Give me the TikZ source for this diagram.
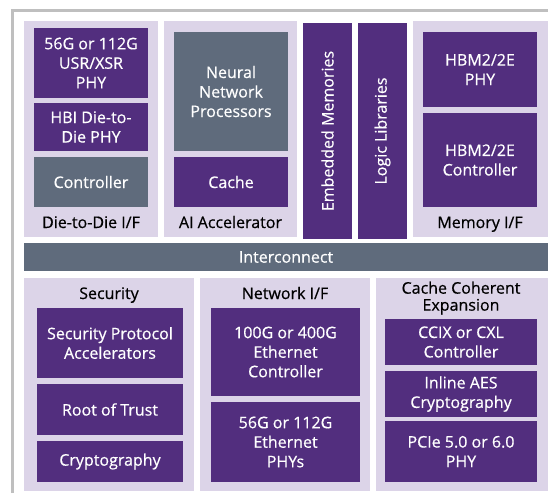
\documentclass[tikz,border=0pt]{standalone}
\usepackage{fontspec}
\setmainfont{Open Sans}[FakeBold=0.5]
\usepackage{xcolor}
\usepackage{tikz}
\usetikzlibrary{shapes, arrows}
\definecolor{lav}{HTML}{DCD4E8}
\definecolor{purp}{HTML}{522E7E}
\definecolor{slate}{HTML}{5F6B7C}
\definecolor{rim}{HTML}{BFBFBF}

\begin{document}
\begin{tikzpicture}[x=1pt,y=-1pt,
      font=\fontsize{16}{19.5}\selectfont,
      box/.style={anchor=north west,inner sep=0pt,outer sep=0pt,align=center},
      panel/.style={box,fill=lav},
      block/.style={box,fill=purp,text=white},
      grey block/.style={box,fill=slate,text=white},
      bar/.style={block,anchor=center,rotate=90,minimum width=216pt,minimum height=49pt},
      title/.style={anchor=base,align=center,inner sep=0pt,text=black}]

    \useasboundingbox (0,0) rectangle (548,493);
    \clip (0,0) rectangle (548,493);
    \draw[rim,line width=3pt] (12.5,493) -- (12.5,10.5) -- (548,10.5);

    \node[panel,minimum width=134pt,minimum height=216pt] (d2d) at (24,21) {};
    \node[panel,minimum width=133pt,minimum height=216pt] (ai) at (164,21) {};
    \node[panel,minimum width=135pt,minimum height=216pt] (mem) at (413,21) {};
    \node[bar] (emb) at (327.5,131) {Embedded Memories};
    \node[bar] (logic) at (382.5,131) {Logic Libraries};

    \node[block,minimum width=114pt,minimum height=70pt] (phy) at (34,28) {56G or 112G\\USR/XSR\\PHY};
    \node[block,minimum width=114pt,minimum height=48pt] (hbi) at (34,103) {HBI Die-to-\\Die PHY};
    \node[grey block,minimum width=114pt,minimum height=50pt] (ctrl) at (34,157) {Controller};
    \node[title] (d2d label) at (91,228) {Die-to-Die I/F};

    \node[grey block,minimum width=114pt,minimum height=119pt] (nnp) at (174,32) {Neural\\Network\\Processors};
    \node[block,minimum width=114pt,minimum height=50pt] (cache) at (174,157) {Cache};
    \node[title] (ai label) at (230.5,228) {AI Accelerator};

    \node[block,minimum width=114pt,minimum height=75pt] (hbmphy) at (423,32) {HBM2/2E\\PHY};
    \node[block,minimum width=114pt,minimum height=94pt] (hbmctrl) at (423,113) {HBM2/2E\\Controller};
    \node[title] (mem label) at (480,228) {Memory I/F};

    \node[grey block,minimum width=524pt,minimum height=28pt] (inter) at (24,243) {Interconnect};

    \node[panel,minimum width=170pt,minimum height=213pt] (sec) at (24,278) {};
    \node[panel,minimum width=170pt,minimum height=213pt] (net) at (200,278) {};
    \node[panel,minimum width=172pt,minimum height=213pt] (cce) at (376,278) {};

    \node[title] (sec label) at (109,299) {Security};
    \node[block,minimum width=146pt,minimum height=70pt] (spa) at (37,308) {Security Protocol\\Accelerators};
    \node[block,minimum width=146pt,minimum height=51pt] (rot) at (37,384) {Root of Trust};
    \node[block,minimum width=146pt,minimum height=41pt] (crypto) at (37,441) {Cryptography};

    \node[title] (net label) at (285,299) {Network I/F};
    \node[block,minimum width=149pt,minimum height=88pt] (eth100) at (211,308) {100G or 400G\\Ethernet\\Controller};
    \node[block,minimum width=149pt,minimum height=80pt] (eth56) at (211,402) {56G or 112G\\Ethernet\\PHYs};

    \node[title,anchor=center,font=\fontsize{16}{17}\selectfont] (cce label) at (461,298) {Cache Coherent\\Expansion};
    \node[block,minimum width=152pt,minimum height=46pt] (ccix) at (385,319) {CCIX or CXL\\Controller};
    \node[block,minimum width=152pt,minimum height=46pt] (aes) at (385,371) {Inline AES\\Cryptography};
    \node[block,minimum width=152pt,minimum height=61pt] (pcie) at (385,421) {PCIe 5.0 or 6.0\\PHY};
\end{tikzpicture}
\end{document}
